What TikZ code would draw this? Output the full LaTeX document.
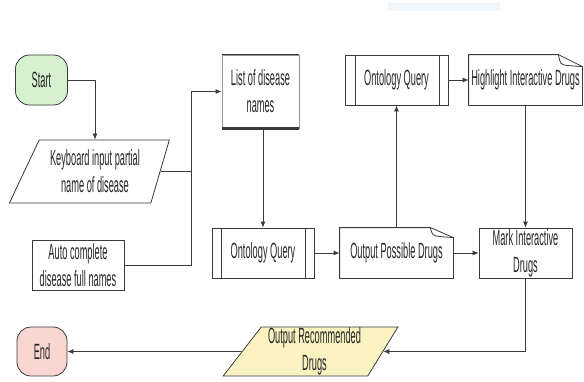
\documentclass[tikz,border=0pt]{standalone}
\usepackage{fontspec}
\setmainfont{Liberation Sans}[FakeStretch=0.42]
\usetikzlibrary{arrows.meta,shapes.geometric}
\definecolor{edge}{HTML}{3A3A3A}
\definecolor{txt}{HTML}{262626}
\definecolor{startfill}{HTML}{D5F0CF}
\definecolor{endfill}{HTML}{F9D6D1}
\definecolor{iofill}{HTML}{FBF2C2}
\definecolor{band}{HTML}{F1F6FD}
\newcommand{\lbl}{\fontsize{22}{27}\selectfont}
\begin{document}
\begin{tikzpicture}[x=1pt,y=-1pt,
  box/.style={draw=edge, line width=0.8pt, rectangle, inner sep=0pt,
    align=center, font=\lbl, text=txt},
  terminal/.style={box, rounded corners=14pt, minimum width=52pt, minimum height=50pt},
  io/.style={box, trapezium, trapezium stretches=true, fill=iofill},
  flow/.style={draw=edge, line width=0.8pt},
  arr/.style={flow, -{Latex[length=6pt,width=5pt]}},
  frame/.style={draw=edge, line width=0.8pt}]
\useasboundingbox (0,0) rectangle (584,381);

% faint band at the top
\fill[band] (388,3) rectangle (500,11);

% terminals
\node[terminal, fill=startfill] (start) at (41.5,80) {Start};
\node[terminal, fill=endfill, minimum width=50pt, minimum height=49pt] (end) at (42,351.5) {End};

% inputs and outputs
\node[io, fill=white, trapezium left angle=61, trapezium right angle=109,
  minimum width=160pt, minimum height=63pt] (kb) at (95,171.5)
  {Keyboard input partial\\name of disease};
\node[io, trapezium left angle=55, trapezium right angle=119,
  minimum width=175pt, minimum height=49pt] (outrec) at (314.5,351.5)
  {Output Recommended\\Drugs};

% process boxes
\node[box, minimum width=92pt, minimum height=50pt] (auto) at (78,265)
  {Auto complete\\disease full names};
\node[box, draw=edge!55, minimum width=77pt, minimum height=73pt] (list) at (260.5,91.5)
  {List of disease\\names};
\node[box, minimum width=102pt, minimum height=50pt] (oq1) at (263,253) {Ontology Query};
\node[box, minimum width=103pt, minimum height=50pt] (oq2) at (396.5,80) {Ontology Query};
\node[box, minimum width=93pt, minimum height=50pt] (mark) at (525.5,253)
  {Mark Interactive\\Drugs};

% documents with a folded corner
\node[box, draw=none, minimum width=113pt, minimum height=50pt] (opd) at (396.5,253)
  {Output Possible Drugs};
\node[box, draw=none, minimum width=113pt, minimum height=50pt] (hl) at (525.5,80)
  {Highlight Interactive Drugs};

% stored list: heavy top and bottom rules
\draw[edge, line width=1.6pt] (list.north west) -- (list.north east);
\draw[edge, line width=2.2pt] (list.south west) -- (list.south east);

% predefined-process side bars
\draw[frame] ([xshift=10pt]oq1.north west) -- ([xshift=10pt]oq1.south west);
\draw[frame] ([xshift=-9pt]oq1.north east) -- ([xshift=-9pt]oq1.south east);
\draw[frame] ([xshift=11pt]oq2.north west) -- ([xshift=11pt]oq2.south west);
\draw[frame] ([xshift=-9pt]oq2.north east) -- ([xshift=-9pt]oq2.south east);

% document outlines with page curl
\draw[frame] (opd.north west) -- ([xshift=-23pt]opd.north east)
  -- ([yshift=-10pt]opd.north east) -- (opd.south east) -- (opd.south west) -- cycle;
\draw[frame] ([xshift=-23pt]opd.north east)
  .. controls ([xshift=-21pt,yshift=-8pt]opd.north east) .. ([xshift=-13pt,yshift=-9pt]opd.north east)
  -- ([yshift=-10pt]opd.north east);
\draw[frame] (hl.north west) -- ([xshift=-24pt]hl.north east)
  -- ([yshift=-12pt]hl.north east) -- (hl.south east) -- (hl.south west) -- cycle;
\draw[frame] ([xshift=-24pt]hl.north east)
  .. controls ([xshift=-22pt,yshift=-10pt]hl.north east) .. ([xshift=-14pt,yshift=-11pt]hl.north east)
  -- ([yshift=-12pt]hl.north east);

% connectors
\coordinate (bus) at (191,91.5);
\draw[arr] (start.east) -| (kb.north);
\draw[arr] (kb.east) -| (bus) -- (list.west);
\draw[flow] (auto.east) -| (bus);
\draw[arr] (oq1.north |- list.south) -- (oq1.north);
\draw[arr] (oq1.east) -- (opd.west);
\draw[arr] (opd.north) -- (oq2.south);
\draw[arr] (oq2.east) -- (hl.west);
\draw[arr] (hl.south) -- (mark.north);
\draw[arr] (opd.east) -- (mark.west);
\draw[arr] (mark.south) |- (outrec.east);
\draw[arr] (outrec.west) -- (end.east);
\end{tikzpicture}
\end{document}
